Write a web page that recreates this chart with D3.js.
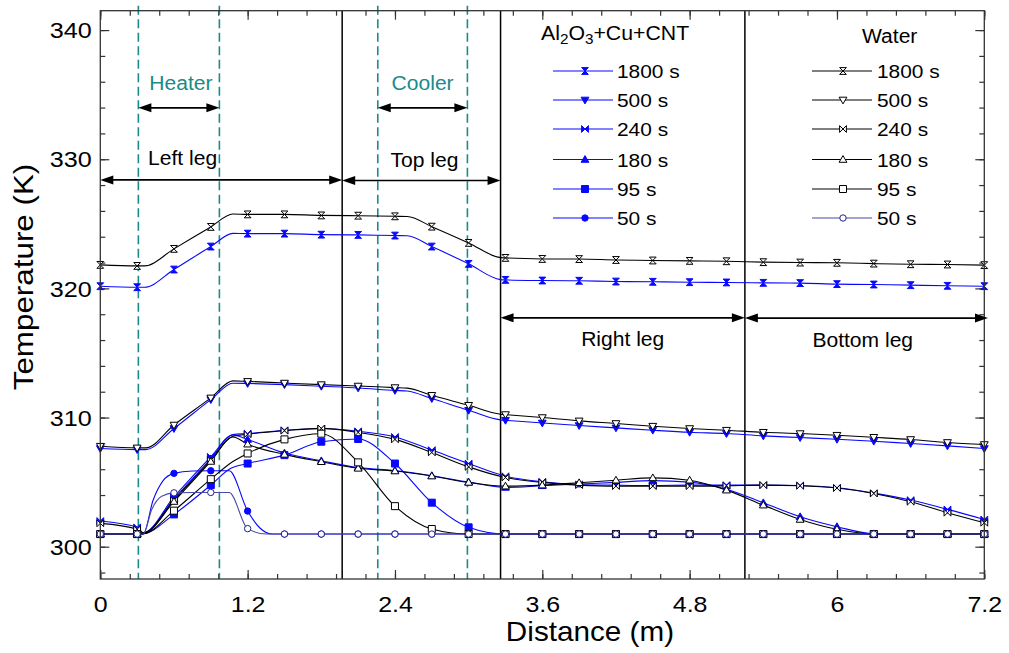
<!DOCTYPE html>
<html><head><meta charset="utf-8">
<script src="https://cdn.jsdelivr.net/npm/d3@7"></script>
<style>
body{margin:0;background:#fff}
svg{display:block}
text{font-family:Arial,"Liberation Sans",sans-serif;fill:#000}
</style>
</head><body>
<svg id="chart" width="1009" height="653"></svg>
<script>
// ---------------- DATA ----------------
const timeLabels = ["1800 s","500 s","240 s","180 s","95 s","50 s"];

// Al2O3+Cu+CNT hybrid nanofluid  [distance (m), temperature (K)]
const nano1800 = [[0,320.17],[0.3,320.09],[0.36,320.09],[0.6,321.46],[0.9,323.24],[1.08,324.26],[1.2,324.24],[1.5,324.24],[1.8,324.16],[2.1,324.14],[2.4,324.09],[2.5,324.08],[2.7,323.24],[3.0,321.9],[3.26,320.68],[3.3,320.66],[3.6,320.61],[3.9,320.59],[4.2,320.53],[4.5,320.51],[4.8,320.48],[5.1,320.46],[5.4,320.43],[5.7,320.41],[6.0,320.33],[6.3,320.3],[6.6,320.25],[6.9,320.2],[7.2,320.17]];
const nano500 = [[0,307.6],[0.3,307.52],[0.37,307.52],[0.6,309.15],[0.9,311.39],[1.08,312.66],[1.2,312.64],[1.5,312.55],[1.8,312.42],[2.1,312.29],[2.4,312.1],[2.5,312.05],[2.7,311.47],[3.0,310.56],[3.26,309.82],[3.3,309.79],[3.6,309.58],[3.9,309.38],[4.2,309.2],[4.5,309.02],[4.8,308.86],[5.1,308.76],[5.4,308.58],[5.7,308.45],[6.0,308.32],[6.3,308.17],[6.6,307.99],[6.9,307.81],[7.2,307.6]];
const nano240 = [[0,301.99],[0.3,301.5],[0.35,301.08],[0.6,303.85],[0.9,306.96],[1.08,308.68],[1.2,308.76],[1.5,309.02],[1.8,309.15],[2.1,308.94],[2.4,308.5],[2.7,307.48],[3.0,306.44],[3.3,305.46],[3.6,305.03],[3.9,304.82],[4.2,304.77],[4.5,304.74],[4.8,304.77],[5.1,304.77],[5.4,304.77],[5.7,304.74],[6.0,304.56],[6.3,304.15],[6.6,303.61],[6.9,302.89],[7.2,302.11]];
const nano180 = [[0,300.98],[0.3,300.98],[0.35,301.0],[0.6,303.7],[0.9,306.8],[1.08,308.65],[1.2,308.3],[1.5,307.25],[1.8,306.65],[2.1,306.13],[2.4,305.9],[2.7,305.5],[3.0,305.0],[3.3,304.59],[3.6,304.72],[3.9,304.85],[4.2,304.98],[4.5,305.12],[4.8,305.0],[5.1,304.45],[5.4,303.4],[5.7,302.32],[6.0,301.55],[6.3,301.0],[6.6,300.98],[6.9,300.98],[7.2,300.98]];
const nano95 = [[0,300.98],[0.3,300.98],[0.35,301.0],[0.6,302.5],[0.9,304.77],[1.06,306.05],[1.2,306.44],[1.5,307.09],[1.8,308.13],[2.1,308.34],[2.4,306.44],[2.7,303.41],[3.0,301.5],[3.3,300.98],[3.6,300.98],[3.9,300.98],[4.2,300.98],[4.5,300.98],[4.8,300.98],[5.1,300.98],[5.4,300.98],[5.7,300.98],[6.0,300.98],[6.3,300.98],[6.6,300.98],[6.9,300.98],[7.2,300.98]];
const nano50 = [[0,300.98],[0.3,300.98],[0.35,300.98],[0.43,303.6],[0.51,305.1],[0.6,305.68],[0.75,305.86],[0.9,305.88],[1.05,305.88],[1.2,302.76],[1.3,301.45],[1.4,300.98],[1.5,300.98],[1.8,300.98],[2.1,300.98],[2.4,300.98],[2.7,300.98],[3.0,300.98],[3.3,300.98],[3.6,300.98],[3.9,300.98],[4.2,300.98],[4.5,300.98],[4.8,300.98],[5.1,300.98],[5.4,300.98],[5.7,300.98],[6.0,300.98],[6.3,300.98],[6.6,300.98],[6.9,300.98],[7.2,300.98]];

// Water
const water1800 = [[0,321.82],[0.3,321.74],[0.36,321.74],[0.6,323.06],[0.9,324.76],[1.08,325.76],[1.2,325.73],[1.5,325.73],[1.8,325.65],[2.1,325.63],[2.4,325.58],[2.5,325.57],[2.7,324.78],[3.0,323.52],[3.26,322.38],[3.3,322.36],[3.6,322.28],[3.9,322.27],[4.2,322.2],[4.5,322.16],[4.8,322.13],[5.1,322.1],[5.4,322.03],[5.7,322.0],[6.0,321.98],[6.3,321.92],[6.6,321.87],[6.9,321.85],[7.2,321.8]];
const water500 = [[0,307.78],[0.3,307.65],[0.37,307.65],[0.6,309.42],[0.9,311.52],[1.08,312.84],[1.2,312.8],[1.5,312.67],[1.8,312.55],[2.1,312.44],[2.4,312.32],[2.5,312.28],[2.7,311.72],[3.0,310.95],[3.26,310.26],[3.3,310.23],[3.6,310.0],[3.9,309.74],[4.2,309.54],[4.5,309.33],[4.8,309.15],[5.1,309.02],[5.4,308.86],[5.7,308.76],[6.0,308.63],[6.3,308.47],[6.6,308.3],[6.9,308.07],[7.2,307.91]];
const water240 = [[0,301.81],[0.3,301.35],[0.35,301.08],[0.6,303.6],[0.9,306.7],[1.08,308.55],[1.2,308.71],[1.5,308.98],[1.8,309.16],[2.1,308.85],[2.4,308.31],[2.7,307.3],[3.0,306.18],[3.3,305.36],[3.6,304.98],[3.9,304.77],[4.2,304.69],[4.5,304.69],[4.8,304.69],[5.1,304.72],[5.4,304.77],[5.7,304.72],[6.0,304.54],[6.3,304.12],[6.6,303.48],[6.9,302.63],[7.2,301.85]];
const water180 = [[0,300.98],[0.3,300.98],[0.35,301.0],[0.6,303.5],[0.9,306.6],[1.08,308.5],[1.2,307.94],[1.5,307.15],[1.8,306.58],[2.1,306.07],[2.4,305.86],[2.7,305.47],[3.0,304.98],[3.3,304.69],[3.6,304.77],[3.9,304.95],[4.2,305.15],[4.5,305.33],[4.8,305.15],[5.1,304.38],[5.4,303.22],[5.7,302.11],[6.0,301.35],[6.3,300.98],[6.6,300.98],[6.9,300.98],[7.2,300.98]];
const water95 = [[0,300.98],[0.3,300.98],[0.35,301.0],[0.6,302.79],[0.9,305.23],[1.08,306.6],[1.2,307.22],[1.5,308.31],[1.8,308.75],[2.1,306.53],[2.4,303.14],[2.7,301.37],[3.0,300.98],[3.3,300.98],[3.6,300.98],[3.9,300.98],[4.2,300.98],[4.5,300.98],[4.8,300.98],[5.1,300.98],[5.4,300.98],[5.7,300.98],[6.0,300.98],[6.3,300.98],[6.6,300.98],[6.9,300.98],[7.2,300.98]];
const water50 = [[0,300.98],[0.3,300.98],[0.35,300.98],[0.42,302.9],[0.5,303.9],[0.6,304.17],[0.75,304.2],[0.9,304.2],[1.05,304.2],[1.2,301.4],[1.35,300.98],[1.5,300.98],[1.8,300.98],[2.1,300.98],[2.4,300.98],[2.7,300.98],[3.0,300.98],[3.3,300.98],[3.6,300.98],[3.9,300.98],[4.2,300.98],[4.5,300.98],[4.8,300.98],[5.1,300.98],[5.4,300.98],[5.7,300.98],[6.0,300.98],[6.3,300.98],[6.6,300.98],[6.9,300.98],[7.2,300.98]];

// Axis ticks
const xMajorTicks = [0,1.2,2.4,3.6,4.8,6,7.2];
const xTickLabels = ["0","1.2","2.4","3.6","4.8","6","7.2"];
const yMajorTicks = [300,310,320,330,340];
const yTickLabels = ["300","310","320","330","340"];

// Loop sections (m)
const legBoundaries = [1.97,3.26,5.25];
const exchangerBoundaries = [0.31,0.97,2.26,2.99];
const legNames = ["Left leg","Top leg","Right leg","Bottom leg"];
const legFrom = [0,1.97,3.26,5.25];
const legTo = [1.97,3.26,5.25,7.23];
const legArrowT = [328.4,328.35,317.72,317.7];
const legLabelX = [0.67,2.64,4.255,6.21];
const legLabelT = [329.54,329.41,315.52,315.46];
const exchangerNames = ["Heater","Cooler"];
const exchangerFrom = [0.31,2.26];
const exchangerTo = [0.97,2.99];
const exchangerArrowT = 333.98;
const exchangerLabelT = 335.34;

// ---------------- CHART ----------------
const svg = d3.select("#chart");
const x = d3.scaleLinear().domain([0,7.2]).range([100.3,984.3]);
const y = d3.scaleLinear().domain([297.5,341.5]).range([579,10.7]);
const X0 = x.range()[0], X1 = x.range()[1], Y0 = y.range()[1], Y1 = y.range()[0];

const BLUE = "#0808ff", BLACK = "#000", TEAL = "#1a8a8a", NAVY_LINE = "#4a4aaa", NAVY = "#20208a";

function stretch(sel,k){
  sel.each(function(){
    const w = this.getComputedTextLength();
    if (w>0){ this.setAttribute("textLength", (w*k).toFixed(2)); this.setAttribute("lengthAdjust","spacingAndGlyphs"); }
  });
}

function markerPath(shape){
  const s = 3.4;
  switch(shape){
    case "hourglass": return `M${-s},${-s}H${s}L${-s},${s}H${s}Z`;
    case "bowtie": return `M${-s},${-s}V${s}L${s},${-s}V${s}Z`;
    case "tdown": return `M${-3.9},${-2.8}H${3.9}L0,${3.9}Z`;
    case "tup": return `M${-3.9},${2.8}H${3.9}L0,${-3.9}Z`;
    case "square": return `M${-3.5},${-3.5}H${3.5}V${3.5}H${-3.5}Z`;
    case "circle": { const r=3.2; return `M${-r},0A${r},${r} 0 1,0 ${r},0A${r},${r} 0 1,0 ${-r},0Z`; }
  }
}
const shapes = ["hourglass","tdown","bowtie","tup","square","circle"];

const nanoSeries = [nano1800,nano500,nano240,nano180,nano95,nano50];
const waterSeries = [water1800,water500,water240,water180,water95,water50];

const series = [];
nanoSeries.forEach((d,i)=>series.push({data:d, shape:shapes[i], line:BLUE, stroke:BLUE, fill:BLUE, label:timeLabels[i], group:"nano", idx:i}));
waterSeries.forEach((d,i)=>series.push({data:d, shape:shapes[i], line: i===5?NAVY_LINE:BLACK, stroke: i===5?NAVY:BLACK, fill:"#fff", label:timeLabels[i], group:"water", idx:i}));

// axis ticks
function tickAxis(axis, transform){
  const g = svg.append("g").attr("transform",transform).call(axis);
  g.select(".domain").remove();
  g.selectAll(".tick line").attr("stroke","#333").attr("stroke-width",1.2);
  return g;
}
const minorX = d3.range(0,7.2001,0.24);
const minorY = d3.range(298,341.5,2);

tickAxis(d3.axisBottom(x).tickValues(minorX).tickSize(-5).tickFormat(""), `translate(0,${Y1})`);
tickAxis(d3.axisTop(x).tickValues(minorX).tickSize(-5).tickFormat(""), `translate(0,${Y0})`);
tickAxis(d3.axisLeft(y).tickValues(minorY).tickSize(-5).tickFormat(""), `translate(${X0},0)`);
tickAxis(d3.axisRight(y).tickValues(minorY).tickSize(-5).tickFormat(""), `translate(${X1},0)`);
tickAxis(d3.axisTop(x).tickValues(xMajorTicks).tickSize(-9).tickFormat(""), `translate(0,${Y0})`);
tickAxis(d3.axisRight(y).tickValues(yMajorTicks).tickSize(-9).tickFormat(""), `translate(${X1},0)`);

const gxb = tickAxis(d3.axisBottom(x).tickValues(xMajorTicks).tickSize(-9).tickPadding(18).tickFormat((d,i)=>xTickLabels[i]), `translate(0,${Y1})`);
gxb.selectAll("text").attr("font-size",21.5).attr("font-family","Arial, 'Liberation Sans', sans-serif").attr("fill","#000");
stretch(gxb.selectAll("text"),1.16);
const gyl = tickAxis(d3.axisLeft(y).tickValues(yMajorTicks).tickSize(-9).tickPadding(8.6).tickFormat((d,i)=>yTickLabels[i]), `translate(${X0},0)`);
gyl.selectAll("text").attr("font-size",21.5).attr("dy","0.36em").attr("font-family","Arial, 'Liberation Sans', sans-serif").attr("fill","#000");
stretch(gyl.selectAll("text"),1.17);

// section boundaries
svg.append("g").selectAll("line").data(legBoundaries).join("line")
  .attr("x1",d=>x(d)).attr("x2",d=>x(d)).attr("y1",Y0).attr("y2",Y1)
  .attr("stroke","#000").attr("stroke-width",1.5);
svg.append("g").selectAll("line").data(exchangerBoundaries).join("line")
  .attr("x1",d=>x(d)).attr("x2",d=>x(d)).attr("y1",Y0-5).attr("y2",Y1)
  .attr("stroke",TEAL).attr("stroke-width",1.6).attr("stroke-dasharray","9,4.5");

// lines
const lineGen = d3.line().x(d=>x(d[0])).y(d=>y(d[1])).curve(d3.curveMonotoneX);
svg.append("g").selectAll("path").data(series).join("path")
  .attr("d",s=>lineGen(s.data)).attr("fill","none")
  .attr("stroke",s=>s.line).attr("stroke-width",1.1);

// markers
const isMarker = d => Math.abs(d[0]/0.3 - Math.round(d[0]/0.3)) < 1e-6;
series.forEach(s=>{
  svg.append("g").selectAll("path").data(s.data.filter(isMarker)).join("path")
    .attr("transform",d=>`translate(${x(d[0])},${y(d[1])})`)
    .attr("d",markerPath(s.shape))
    .attr("fill",s.fill).attr("stroke",s.stroke).attr("stroke-width",1);
});

// axis frame
svg.append("rect").attr("x",X0).attr("y",Y0).attr("width",X1-X0).attr("height",Y1-Y0)
  .attr("fill","none").attr("stroke","#333").attr("stroke-width",1.3);

// arrows
function doubleArrow(xa, xb, yy){
  const g = svg.append("g");
  const L = 13, hw = 4.5;
  g.append("line").attr("x1",xa+4).attr("x2",xb-4).attr("y1",yy).attr("y2",yy).attr("stroke","#000").attr("stroke-width",1.6);
  g.append("path").attr("d",`M${xa},${yy}L${xa+L},${yy-hw}L${xa+L},${yy+hw}Z`).attr("fill","#000");
  g.append("path").attr("d",`M${xb},${yy}L${xb-L},${yy-hw}L${xb-L},${yy+hw}Z`).attr("fill","#000");
}
legNames.forEach((n,i)=>doubleArrow(x(legFrom[i]), x(legTo[i]), y(legArrowT[i])));
exchangerNames.forEach((n,i)=>doubleArrow(x(exchangerFrom[i]), x(exchangerTo[i]), y(exchangerArrowT)));

const legText = svg.append("g").selectAll("text").data(legNames).join("text")
  .attr("x",(d,i)=>x(legLabelX[i])).attr("y",(d,i)=>y(legLabelT[i]))
  .attr("text-anchor","middle").attr("font-size",19.5).text(d=>d);
stretch(legText,1.08);
const exText = svg.append("g").selectAll("text").data(exchangerNames).join("text")
  .attr("x",(d,i)=>x((exchangerFrom[i]+exchangerTo[i])/2)+ (i===0?2:0)).attr("y",y(exchangerLabelT))
  .attr("text-anchor","middle").attr("font-size",19.5).style("fill",TEAL).text(d=>d);
stretch(exText,1.08);

// axis titles
const xt = svg.append("text").attr("x",590).attr("y",641).attr("text-anchor","middle").attr("font-size",28).text("Distance (m)");
stretch(xt,1.06);
const yt = svg.append("text").attr("transform","translate(33,277) rotate(-90)").attr("text-anchor","middle").attr("font-size",28).text("Temperature (K)");
stretch(yt,1.12);

// legends
const rowY = [71,100,129,159.5,189,218];
function legend(group, x1, x2, xm, xt){
  const ss = series.filter(s=>s.group===group);
  ss.forEach((s,i)=>{
    const yy = rowY[i];
    svg.append("line").attr("x1",x1).attr("x2",x2).attr("y1",yy).attr("y2",yy).attr("stroke",s.line).attr("stroke-width",1.1);
    svg.append("path").attr("transform",`translate(${xm},${yy})`).attr("d",markerPath(s.shape)).attr("fill",s.fill).attr("stroke",s.stroke).attr("stroke-width",1);
    const t = svg.append("text").attr("x",xt).attr("y",yy+7.3).attr("font-size",19).text(s.label);
    stretch(t,1.1);
  });
}
legend("nano",553,613,585,617);
legend("water",812,872,843,877);

const t1 = svg.append("text").attr("x",541).attr("y",40).attr("font-size",19.5);
t1.append("tspan").text("Al");
t1.append("tspan").attr("font-size",14).attr("dy",4).text("2");
t1.append("tspan").attr("dy",-4).text("O");
t1.append("tspan").attr("font-size",14).attr("dy",4).text("3");
t1.append("tspan").attr("dy",-4).text("+Cu+CNT");
stretch(t1,1.09);
const t2 = svg.append("text").attr("x",862).attr("y",43).attr("font-size",19.5).text("Water");
stretch(t2,1.08);
</script>
</body></html>
